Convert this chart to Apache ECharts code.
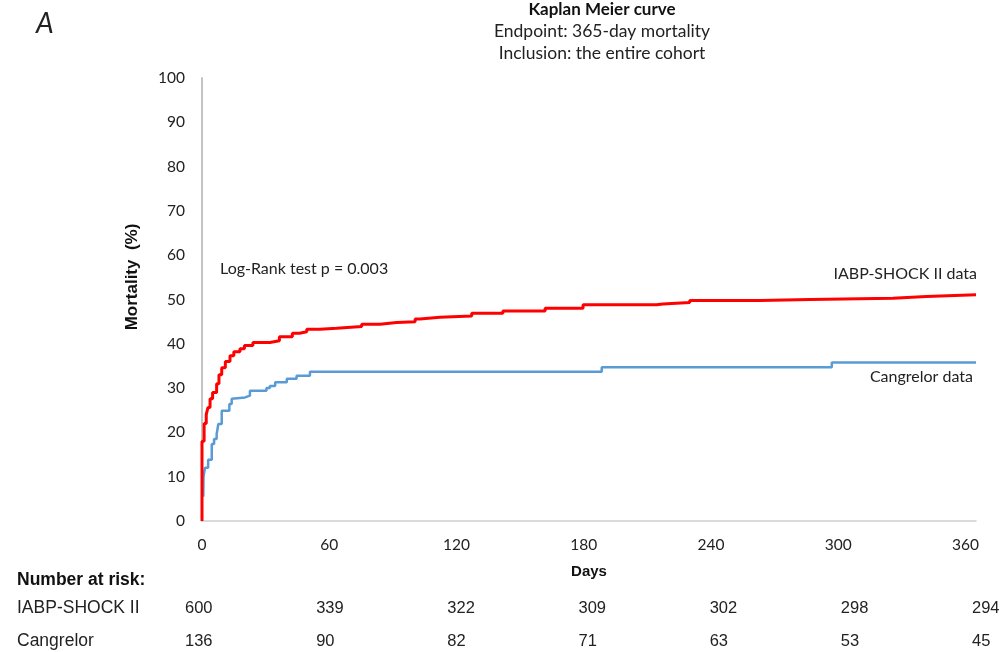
<!DOCTYPE html>
<html>
<head>
<meta charset="utf-8">
<script src="https://cdn.jsdelivr.net/npm/echarts@6/dist/echarts.min.js"></script>
<style>
  html, body { margin: 0; padding: 0; background: #fff; }
  #chart { width: 1004px; height: 652px; }
</style>
</head>
<body>
<div id="chart"></div>
<script>
// Kaplan Meier, 365-day mortality (%) by day
const iabpCurve = [
  [0, 0], [0, 18], [1, 22], [2, 24], [2.8, 25.6], [3.8, 27.6], [5, 29], [6.9, 31],
  [8, 33], [9.3, 34.6], [11, 36], [13.2, 37.3], [15, 38.2], [17.9, 38.9], [20, 39.6],
  [24, 40.3], [32, 40.7], [36.5, 41.6], [42.6, 42.4], [46, 42.7], [49.4, 43.3],
  [55.6, 43.5], [63.5, 43.9], [75.3, 44.4], [83.9, 44.8], [91.8, 45.0], [100.5, 45.6],
  [102.8, 46.0], [112.2, 46.3], [127.2, 46.9], [141.9, 47.4], [161.8, 48.0],
  [179.7, 48.8], [214.4, 49.0], [217.3, 49.3], [230, 49.8], [263, 50], [286.7, 50.3],
  [325.8, 50.7], [341.6, 51.1], [365, 51.1]
]
const cangrelorCurve = [
  [0.6, 5.5], [0.7, 10], [1.4, 12], [2.9, 13.8], [4.6, 17.4], [5.7, 18.5], [6.9, 19.6],
  [7.7, 21.9], [9.3, 24.9], [12.9, 26.4], [14, 27.6], [14.8, 27.9], [20.3, 28.3],
  [22.6, 29.4], [30.4, 30], [32, 30.5], [34.5, 31.3], [40, 32.1], [44.6, 32.8],
  [50.9, 33.7], [188.5, 34.7], [297, 35.8], [365, 35.8]
]

const dayTicks = [0, 60, 120, 180, 240, 300, 360]
const riskIabp = [600, 339, 322, 309, 302, 298, 294]
const riskCangrelor = [136, 90, 82, 71, 63, 53, 45]

const calibri = 'Lato, "Open Sans", sans-serif'
const arial = '"Liberation Sans", Arial, sans-serif'

const chart = echarts.init(document.getElementById('chart'), null, { renderer: 'canvas' })

// number-at-risk rows: a second grid whose columns are a little wider than the plot
const riskAxis = (values, offset) => ({
  type: 'value', gridIndex: 1, min: 0, max: 360, interval: 60, position: 'bottom', offset,
  axisLine: { show: false }, axisTick: { show: false }, splitLine: { show: false },
  axisLabel: {
    margin: 8, align: 'left', color: '#222', fontFamily: arial, fontSize: 16.5,
    formatter: (v) => {
      const i = dayTicks.indexOf(v)
      return i < 0 ? '' : String(values[i])
    }
  }
})

chart.setOption({
  animation: false,
  backgroundColor: '#fff',
  title: {
    text: 'Kaplan Meier curve',
    subtext: 'Endpoint: 365-day mortality\nInclusion: the entire cohort',
    left: 597, top: -4, textAlign: 'center', itemGap: 2,
    textStyle: { fontFamily: calibri, fontSize: 17, fontWeight: 'bold', color: '#111' },
    subtextStyle: { fontFamily: calibri, fontSize: 17.5, color: '#222', lineHeight: 22 }
  },
  grid: [
    { left: 202, right: 28, top: 78, bottom: 131 },
    { left: 185, right: 32, top: 78, bottom: 131 }
  ],
  xAxis: [
    {
      type: 'value', min: 0, max: 365, interval: 60,
      name: 'Days', nameLocation: 'middle', nameGap: 43,
      nameTextStyle: { fontFamily: arial, fontSize: 15, fontWeight: 'bold', color: '#111' },
      axisLine: { lineStyle: { color: '#d0d0d0', width: 1.5 } },
      axisTick: { show: false },
      splitLine: { show: false },
      axisLabel: {
        margin: 16, color: '#222', fontFamily: calibri, fontSize: 15.5,
        formatter: (v) => (dayTicks.indexOf(v) < 0 ? '' : String(v))
      }
    },
    riskAxis(riskIabp, 71),
    riskAxis(riskCangrelor, 104)
  ],
  yAxis: [
    {
      type: 'value', min: 0, max: 100, interval: 10,
      axisLine: { show: true, lineStyle: { color: '#c4c4c4', width: 2 } },
      axisTick: { show: false },
      splitLine: { show: false },
      axisLabel: { margin: 17, color: '#222', fontFamily: calibri, fontSize: 15.5 }
    },
    { type: 'value', gridIndex: 1, show: false, min: 0, max: 100 }
  ],
  series: [
    {
      name: 'IABP-SHOCK II data', type: 'line', step: 'end', data: iabpCurve,
      showSymbol: false, lineStyle: { color: '#ff0000', width: 3 }, z: 3
    },
    {
      name: 'Cangrelor data', type: 'line', step: 'end', data: cangrelorCurve,
      showSymbol: false, lineStyle: { color: '#5b9bd5', width: 2.5 }, z: 2
    }
  ],
  graphic: [
    { type: 'text', left: 36, top: 10,
      style: { text: 'A', font: 'italic 28px ' + calibri, fill: '#222' } },
    { type: 'text', x: 132, y: 277, rotation: Math.PI / 2,
      style: { text: 'Mortality  (%)', font: 'bold 17px ' + arial, fill: '#111', align: 'center', verticalAlign: 'middle' } },
    { type: 'text', x: 220, y: 269,
      style: { text: 'Log-Rank test p = 0.003', font: '16px ' + calibri, fill: '#222', verticalAlign: 'middle' } },
    { type: 'text', x: 977, y: 274,
      style: { text: 'IABP-SHOCK II data', font: '16px ' + calibri, fill: '#222', align: 'right', verticalAlign: 'middle' } },
    { type: 'text', x: 973, y: 377,
      style: { text: 'Cangrelor data', font: '16px ' + calibri, fill: '#222', align: 'right', verticalAlign: 'middle' } },
    { type: 'text', x: 17, y: 580,
      style: { text: 'Number at risk:', font: 'bold 17.5px ' + arial, fill: '#111', verticalAlign: 'middle' } },
    { type: 'text', x: 17, y: 608,
      style: { text: 'IABP-SHOCK II', font: '17.5px ' + arial, fill: '#222', verticalAlign: 'middle' } },
    { type: 'text', x: 17, y: 641,
      style: { text: 'Cangrelor', font: '17.5px ' + arial, fill: '#222', verticalAlign: 'middle' } }
  ]
})
</script>
</body>
</html>
